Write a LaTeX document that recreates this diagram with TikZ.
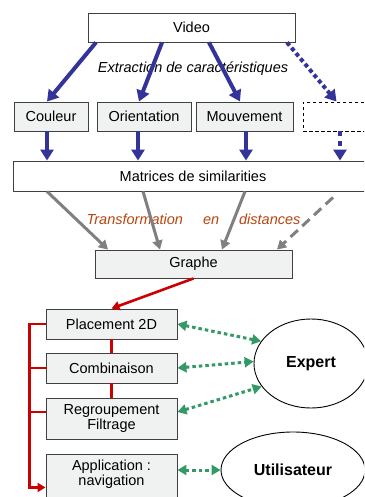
\documentclass[tikz,border=0pt]{standalone}
\usepackage{fontspec}
\setmainfont{Liberation Sans}
\usetikzlibrary{arrows.meta,shapes.geometric,calc}
\definecolor{bluea}{RGB}{51,51,153}
\definecolor{greena}{RGB}{51,153,102}
\definecolor{reda}{RGB}{204,0,0}
\definecolor{greya}{RGB}{128,128,128}
\definecolor{orangea}{RGB}{184,69,15}
\definecolor{boxfill}{RGB}{240,241,241}
\begin{document}
\begin{tikzpicture}[x=1pt,y=-1pt,
  every node/.style={font=\fontsize{14.5}{15}\selectfont},
  box/.style={draw=black!75,line width=0.9pt,fill=boxfill,rectangle,inner sep=0pt,align=center},
  wbox/.style={box,fill=white},
  blueline/.style={draw=bluea,line width=4pt,-{Triangle[width=13pt,length=11pt]}},
  greyline/.style={draw=greya,line width=3pt,-{Triangle[width=10pt,length=9pt]}},
  redline/.style={draw=reda,line width=2.6pt},
  greenline/.style={draw=greena,line width=3pt,dash pattern=on 3.5pt off 3pt,
    {Triangle[width=10pt,length=9pt]}-{Triangle[width=10pt,length=9pt]}},
  oval/.style={draw=black,line width=0.9pt,ellipse,inner sep=0pt,fill=white,font=\fontsize{16}{18}\selectfont\bfseries}
]
\clip (0,0) rectangle (364,497);
\fill[white] (0,0) rectangle (364,497);

% top boxes
\node[wbox,minimum width=207,minimum height=29] (video) at (191.5,27.5) {Video};
\node[box,minimum width=74,minimum height=29] (couleur) at (51,116.5) {Couleur};
\node[box,minimum width=94,minimum height=29] (orient) at (144,116.5) {Orientation};
\node[box,minimum width=97,minimum height=29] (mouv) at (244.5,116.5) {Mouvement};
\node[wbox,draw=black,dash pattern=on 3.5pt off 2.5pt,minimum width=67,minimum height=29] (extra) at (336.5,116.5) {};
\node[wbox,minimum width=360,minimum height=30] (matrices) at (193,176) {Matrices de similarities};
\node[box,minimum width=197,minimum height=28] (graphe) at (193.5,264) {Graphe};

\node[font=\fontsize{14.5}{15}\selectfont\itshape] (extraction) at (193,69) {Extraction de caractéristiques};
\node[font=\fontsize{14.5}{15}\selectfont\itshape,text=orangea] (transfo) at (193.5,219) {Transformation\hspace{20pt}en\hspace{20pt}distances};

% Video -> feature boxes
\draw[blueline] ([xshift=-95.5pt]video.south) -- ([xshift=-4pt]couleur.north);
\draw[blueline] ([xshift=-29.5pt]video.south) -- ([xshift=-5pt]orient.north);
\draw[blueline] ([xshift=17.5pt]video.south) -- ([xshift=-4.5pt]mouv.north);
\draw[blueline,dash pattern=on 4pt off 3pt] ([xshift=95.5pt]video.south) -- ([xshift=0pt]extra.north);

% feature boxes -> matrices
\coordinate (c1) at ([xshift=-4pt]couleur.south);
\coordinate (c2) at ([xshift=-6pt]orient.south);
\coordinate (c3) at ([xshift=1.5pt]mouv.south);
\coordinate (c4) at ([xshift=3.5pt]extra.south);
\draw[blueline] (c1) -- (c1 |- matrices.north);
\draw[blueline] (c2) -- (c2 |- matrices.north);
\draw[blueline] (c3) -- (c3 |- matrices.north);
\draw[blueline,dash pattern=on 5pt off 5pt] (c4) -- (c4 |- matrices.north);

% matrices -> graphe
\draw[greyline] ([xshift=-146pt]matrices.south) -- ([xshift=-85.5pt]graphe.north);
\draw[greyline] ([xshift=-50pt]matrices.south) -- ([xshift=-33.5pt]graphe.north);
\draw[greyline] ([xshift=52pt]matrices.south) -- ([xshift=28.5pt]graphe.north);
\draw[greyline,dash pattern=on 10pt off 6pt] ([xshift=140pt,yshift=-6pt]matrices.south) -- ([xshift=83.5pt]graphe.north);

% bottom boxes
\node[box,minimum width=131,minimum height=30] (place) at (111.5,324) {Placement 2D};
\node[box,minimum width=131,minimum height=30] (combi) at (111.5,368) {Combinaison};
\node[box,minimum width=131,minimum height=41] (regroup) at (111.5,418.5) {Regroupement\\Filtrage};
\node[box,minimum width=131,minimum height=51,anchor=north] (app) at (111.5,454) {};
\node[align=center] (apptext) at (111.5,474.5) {Application :\\navigation};

\node[oval,minimum width=114,minimum height=89] (expert) at (311,363.5) {Expert};
\node[oval,minimum width=144,minimum height=76] (util) at (293,470) {Utilisateur};

% red connectors
\draw[redline,-{Triangle[width=9pt,length=8pt]}] (graphe.south) -- (place.north);
\draw[redline] (place.south) -- (combi.north);
\draw[redline] (combi.south) -- (regroup.north);
\coordinate (br) at ([xshift=-16pt]place.west);
\coordinate (rg) at ([yshift=6.5pt]regroup.west);
\draw[redline,-{Triangle[width=9pt,length=8pt]}] (place.west) -- (br) |- ([yshift=-7.5pt]app.west);
\draw[redline] (combi.west) -- (combi.west -| br);
\draw[redline] (rg) -- (rg -| br);

% green connectors
\draw[greenline] (place.east) -- (expert.156);
\draw[greenline] (combi.east) -- (expert.178);
\draw[greenline] ([yshift=6.5pt]regroup.east) -- (expert.205);
\draw[greenline] (util.west -| app.east) -- (util.west);
\end{tikzpicture}
\end{document}
